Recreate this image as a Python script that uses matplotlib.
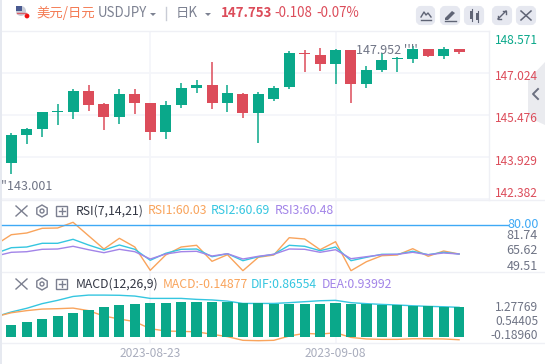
import matplotlib
matplotlib.use("Agg")
import matplotlib.pyplot as plt
import numpy as np
from matplotlib.patches import FancyBboxPatch, Polygon, Circle, RegularPolygon, Rectangle
from matplotlib.transforms import ScaledTranslation

plt.rcParams['font.family'] = ['Noto Sans CJK SC', 'DejaVu Sans']

# ---------- data ----------
opens = [143.721,144.741,144.962,145.600,145.588,146.361,145.883,145.404,146.251,145.920,144.851,145.846,146.472,146.582,145.920,146.251,145.551,146.067,146.509,147.761,147.687,147.356,147.872,146.619,147.135,147.540,147.540,147.908,147.651,147.908]
closes = [144.741,144.962,145.588,145.630,146.361,145.846,145.404,146.251,145.920,144.851,145.846,146.472,146.582,145.920,146.288,145.551,146.251,146.472,147.761,147.735,147.356,147.872,146.619,147.135,147.503,147.570,147.908,147.651,147.908,147.798]
highs = [144.815,145.000,145.588,145.883,146.435,146.582,145.920,146.435,146.435,145.920,145.993,146.656,146.767,147.430,146.582,146.288,146.325,146.546,147.835,147.872,147.945,147.908,147.872,147.282,147.761,147.614,148.019,147.908,147.982,147.908]
lows = [143.305,144.410,144.667,145.109,145.330,145.625,144.925,145.146,145.514,144.557,144.594,145.735,146.288,145.698,145.588,145.367,144.446,145.993,146.435,147.061,147.098,146.619,145.920,146.472,147.061,147.061,147.393,147.614,147.540,147.724]
price_ticks = [148.571,147.024,145.476,143.929,142.382]
price_labels = ['148.571','147.024','145.476','143.929','142.382']
price_colors = ['#0aa88a','#dc4c5a','#dc4c5a','#dc4c5a','#dc4c5a']

rsi1 = [69.9,79.9,81.6,86.3,86.6,92.3,78.9,65.6,76.3,67.6,44.3,59.6,67.6,69.3,53.3,59.9,43.9,57.3,59.6,76.9,75.6,64.9,72.9,43.9,52.9,58.9,59.6,65.9,58.3,63.6,60.6]
rsi2 = [61.3,66.9,67.6,71.3,71.3,75.3,69.6,64.6,69.6,65.3,54.3,61.3,65.3,65.6,57.9,60.9,53.9,57.9,60.3,69.3,68.3,63.9,67.6,53.9,57.3,60.3,60.3,63.3,59.9,62.3,60.6]
rsi3 = [58.6,62.3,62.9,65.3,65.6,68.3,64.9,61.9,65.3,62.9,55.6,60.6,62.9,63.3,58.6,60.9,55.6,58.3,60.3,65.6,65.3,62.3,64.9,55.9,57.9,59.9,60.3,62.3,59.9,61.6,60.6]
rsi_ticks = [81.1,65.6,49.6]
rsi_labels = ['81.74','65.62','49.51']
rsi_line = 90.1

macd_bar = [0.30,0.45,0.61,0.76,0.92,1.07,1.23,1.33,1.38,1.43,1.43,1.48,1.48,1.48,1.48,1.43,1.43,1.38,1.38,1.38,1.38,1.43,1.38,1.36,1.33,1.33,1.29,1.26,1.24,1.23]
dif = [0.73,0.97,1.16,1.40,1.57,1.77,1.84,1.84,1.83,1.79,1.67,1.67,1.67,1.62,1.59,1.53,1.41,1.41,1.41,1.45,1.50,1.55,1.57,1.45,1.40,1.36,1.33,1.29,1.26,1.24,1.21]
macd_line = [0.73,0.93,1.04,1.12,1.14,1.17,1.04,0.76,0.61,0.47,0.11,-0.01,-0.03,-0.05,-0.18,-0.30,-0.49,-0.51,-0.49,-0.27,-0.13,-0.17,-0.10,-0.34,-0.42,-0.44,-0.44,-0.41,-0.41,-0.42,-0.46]
macd_ticks = [1.27769,0.54405,-0.18960]
macd_labels = ['1.27769','0.54405','-0.18960']
macd_base = -0.32

date_idx = [9,21]
date_labels = ['2023-08-23','2023-09-08']

# ---------- style ----------
W,H = 545,364
TEAL,RED,ORANGE,CYAN,PURPLE,BLUE = '#0aa88a','#dc4c5a','#f9a45c','#35c6e0','#a284e8','#3fa9f5'
GRID,GRAY,ICON = '#f4f5f9','#6f7485','#7b7f8f'
L,R = 2,489
fig = plt.figure(figsize=(W/100,H/100),dpi=100,facecolor='white')

under = fig.add_axes([0,0,1,1],zorder=-1)
under.set_xlim(0,W); under.set_ylim(H,0); under.axis('off')
under.add_patch(Polygon([(545,62),(528,80),(528,117),(545,125)],color='#eaebef',lw=0))

def pane(top,bot):
    ax = fig.add_axes([L/W,1-bot/H,(R-L)/W,(bot-top)/H])
    ax.set_xlim((L-11.3)/15.44,(R-11.3)/15.44)
    for s in ax.spines.values(): s.set_visible(False)
    ax.yaxis.tick_right()
    ax.tick_params(length=0,pad=0,labelsize=8.6)
    ax.set_xticks(date_idx); ax.set_xticklabels([])
    ax.grid(True,color=GRID,lw=1.2); ax.set_axisbelow(True)
    return ax

def offset_labels(ax,offs,colors=None,size=8.6):
    for i,(lab,d) in enumerate(zip(ax.get_yticklabels(),offs)):
        # right-aligned to x=538 px
        lab.set_ha('right'); lab.set_fontsize(size)
        lab.set_transform(lab.get_transform()+ScaledTranslation(49/100,-d/100,fig.dpi_scale_trans))
        lab.set_color(colors[i] if colors else GRAY)

idx = np.arange(len(opens))
o,c,hi,lo = map(np.array,(opens,closes,highs,lows))
cols = [TEAL if b>=a else RED for a,b in zip(o,c)]

ax1 = pane(31,200)
ax1.patch.set_alpha(0)
ax1.set_ylim(142.347,148.571)
ax1.vlines(idx,lo,hi,colors=cols,lw=1.1,zorder=3)
ax1.bar(idx,np.abs(c-o),bottom=np.minimum(o,c),width=0.71,color=cols,zorder=4)
ax1.set_yticks(price_ticks); ax1.set_yticklabels(price_labels)
offset_labels(ax1,[8,2,2,3,-7],price_colors)

ax2 = pane(200,272)
ax2.set_ylim(42.6,114.6)
xi = np.arange(-1,len(opens))
ax2.plot(xi,rsi1,color=ORANGE,lw=1,zorder=3)
ax2.plot(xi,rsi2,color=CYAN,lw=1,zorder=4)
ax2.plot(xi,rsi3,color=PURPLE,lw=1,zorder=5)
ax2.set_yticks(rsi_ticks); ax2.set_yticklabels(rsi_labels)
offset_labels(ax2,[0,0,0],size=9)

ax3 = pane(272,343)
ax3.set_ylim(-0.628,3.03)
ax3.plot(xi,dif,color=CYAN,lw=1,zorder=3)
ax3.plot(xi,macd_line,color=ORANGE,lw=1,zorder=3)
ax3.bar(idx,np.array(macd_bar)-macd_base,bottom=macd_base,width=0.66,color=TEAL,zorder=4)
ax3.set_yticks(macd_ticks); ax3.set_yticklabels(macd_labels)
offset_labels(ax3,[0,0,0])
ax3.set_xticklabels(date_labels,color='#a9adbd',fontsize=8.6)
ax3.tick_params(axis='x',pad=3)
ax2.grid(False,axis='y'); ax3.grid(False,axis='y')

# ---------- overlay in pixel units ----------
ov = fig.add_axes([0,0,1,1],zorder=10,facecolor='none')
ov.set_xlim(0,W); ov.set_ylim(H,0); ov.axis('off')
ov.add_patch(Rectangle((0,0),2,H,color='#e6e9f0',lw=0))
for y,x1 in ((31,489),(200,W),(272,W),(343,W)):
    ov.plot([2,x1],[y,y],color='#eff0f5',lw=1)
ov.plot([489,489],[31,200],color='#eff0f5',lw=1)
ov.plot([2,508],[224.5,224.5],color=BLUE,lw=1)
ov.plot([538,533,538],[89,94,99],color='#6b7080',lw=1.4)

def t(x,y,s,color=GRAY,size=9,ha='left',**k):
    ov.text(x,y,s,color=color,fontsize=size,ha=ha,va='center',**k)

# header
ov.add_patch(Circle((21,11),5,color='#c9cdd8',lw=0))
ov.add_patch(Rectangle((16,6),6,5,color='#4a5a90',lw=0))
ov.plot([17,26],[13,13],color='#d9606a',lw=1)
ov.add_patch(Circle((27,16),2.4,color='#f01010',lw=0))
t(36,13,'美元/日元','#f47c55',9.6)
t(98,13,'USDJPY','#7d8292',9.6)
t(176,13,'日K','#7d8292',9.6)
ov.add_patch(Polygon([(150,13),(156,13),(153,16)],color='#7d8292',lw=0))
ov.add_patch(Polygon([(205,13),(211,13),(208,16)],color='#7d8292',lw=0))
ov.plot([166,166],[7,20],color='#c9ccd6',lw=1)
t(221,13,'147.753',RED,9.6,fontweight='bold')
t(274,13,'-0.108',RED,9.6)
t(316,13,'-0.07%',RED,9.6)
for x0,x1 in ((416,435),(440,460),(464,484),(492,512),(516,536)):
    ov.add_patch(FancyBboxPatch((x0+2,8),x1-x0-4,15,boxstyle='round,pad=0,rounding_size=3',mutation_aspect=1,
                                fc='#e6e8f0',ec='#e6e8f0',lw=3))
ov.plot([421,424,426,428,431],[17,12,15,13,17],color='#5f6475',lw=1)
ov.plot([421,431],[20,20],color='#5f6475',lw=1)
ov.add_patch(Polygon([(445,18),(452,11),(455,13),(448,20),(445,20)],color='#5f6475',lw=0))
ov.plot([445,456],[21,21],color='#5f6475',lw=1)
ov.add_patch(Rectangle((470,11),3,8,color='#5f6475',lw=0))
ov.add_patch(Rectangle((476,13),3,7,color='#5f6475',lw=0))
ov.plot([471.5,471.5],[9,21],color='#5f6475',lw=.8); ov.plot([477.5,477.5],[11,22],color='#5f6475',lw=.8)
ov.plot([498,506],[19,11],color='#5f6475',lw=1); ov.plot([503,506,506],[11,11,14],color='#5f6475',lw=1); ov.plot([498,498,501],[16,19,19],color='#5f6475',lw=1)
ov.plot([521,531],[11,20],color='#5f6475',lw=1.1); ov.plot([521,531],[20,11],color='#5f6475',lw=1.1)

def controls(y):
    ov.plot([16,27],[y-5,y+5],color=ICON,lw=1); ov.plot([16,27],[y+5,y-5],color=ICON,lw=1)
    ov.add_patch(RegularPolygon((42,y),6,radius=6,fill=False,ec=ICON,lw=1))
    ov.add_patch(Circle((42,y),2,fill=False,ec=ICON,lw=1))
    ov.add_patch(Rectangle((56,y-5),11,10,fill=False,ec=ICON,lw=1))
    ov.plot([58.5,64.5],[y,y],color=ICON,lw=1); ov.plot([61.5,61.5],[y-3,y+3],color=ICON,lw=1)
controls(211); controls(284)
t(76,211,'RSI(7,14,21)','#333744',8.8)
t(148,211,'RSI1:60.03',ORANGE,8.8)
t(211,211,'RSI2:60.69',CYAN,8.8)
t(275,211,'RSI3:60.48',PURPLE,8.8)
t(76,284,'MACD(12,26,9)','#333744',8.8)
t(163,284,'MACD:-0.14877',ORANGE,8.8)
t(251,284,'DIF:0.86554',CYAN,8.8)
t(322,284,'DEA:0.93992',PURPLE,8.8)
t(539,224.5,'80.00',BLUE,9,ha='right')
t(356,50,"147.952 ''''",GRAY,9)
t(1,186,"''143.001",GRAY,9)

fig.savefig('out.png',dpi=100)
